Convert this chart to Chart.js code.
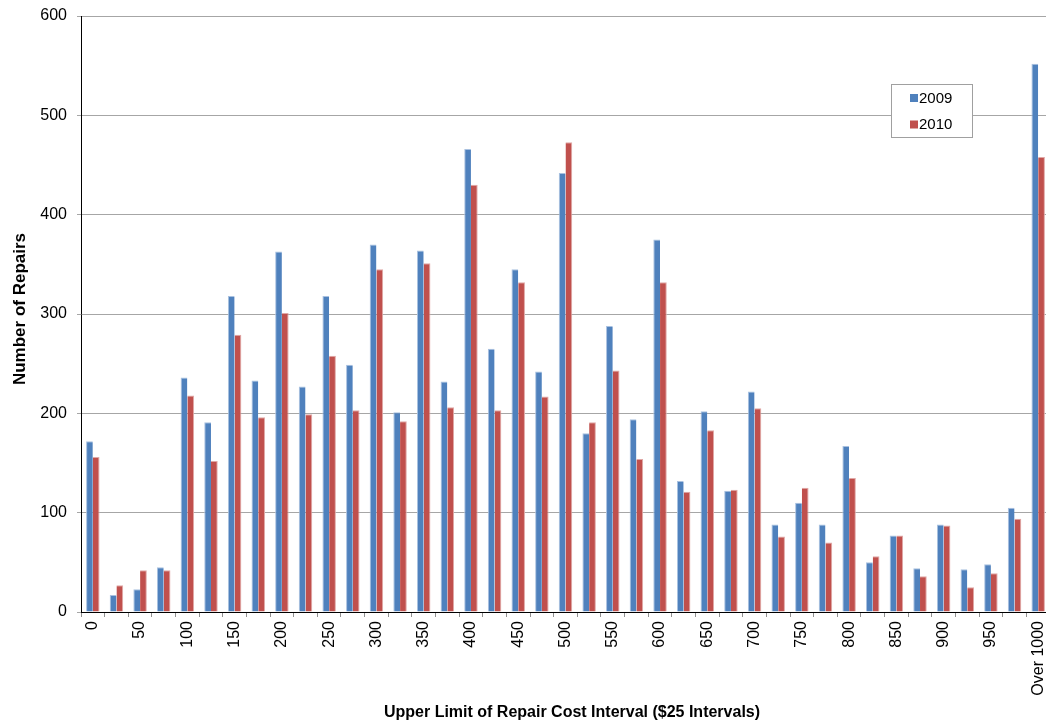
<!DOCTYPE html>
<html>
<head>
<meta charset="utf-8">
<title>Number of Repairs by Repair Cost Interval</title>
<script src="https://cdn.jsdelivr.net/npm/chart.js@4/dist/chart.umd.min.js"></script>
<style>
  html, body { margin: 0; padding: 0; background: #ffffff; overflow: hidden; }
  #wrap { width: 1046px; height: 721px; position: relative; overflow: hidden; }
  #chart { position: absolute; left: 0; top: 0; }
</style>
</head>
<body>
<div id="wrap"><canvas id="chart" width="1050" height="721"></canvas></div>
<script>
// Upper limit of each $25 repair-cost interval
const categories = [
  '0', '25', '50', '75', '100', '125', '150', '175', '200', '225',
  '250', '275', '300', '325', '350', '375', '400', '425', '450', '475',
  '500', '525', '550', '575', '600', '625', '650', '675', '700', '725',
  '750', '775', '800', '825', '850', '875', '900', '925', '950', '975',
  'Over 1000'
];

// Number of repairs per interval
const repairs2009 = [
  172, 17, 23, 45, 236, 191, 318, 233, 363, 227,
  318, 249, 370, 201, 364, 232, 466, 265, 345, 242,
  442, 180, 288, 194, 375, 132, 202, 122, 222, 88,
  110, 88, 167, 50, 77, 44, 88, 43, 48, 105,
  552
];
const repairs2010 = [
  156, 27, 42, 42, 218, 152, 279, 196, 301, 199,
  258, 203, 345, 192, 351, 206, 430, 203, 332, 217,
  473, 191, 243, 154, 332, 121, 183, 123, 205, 76,
  125, 70, 135, 56, 77, 36, 87, 25, 39, 94,
  458
];

const seriesNames = ['2009', '2010'];
const yTicks = [0, 100, 200, 300, 400, 500, 600];

const FONT = '"Liberation Sans", Arial, sans-serif';
const BLUE = '#4F81BD';
const RED = '#C0504D';

// Axis titles and the boxed legend are painted after the chart
const decorations = {
  id: 'decorations',
  afterDraw(chart) {
    const ctx = chart.ctx;
    ctx.save();
    ctx.fillStyle = '#000';
    ctx.font = 'bold 16px ' + FONT;
    ctx.textAlign = 'center';
    ctx.textBaseline = 'alphabetic';
    ctx.fillText('Upper Limit of Repair Cost Interval ($25 Intervals)', 572, 717);

    ctx.font = 'bold 17px ' + FONT;
    ctx.translate(25, 309);
    ctx.rotate(-Math.PI / 2);
    ctx.fillText('Number of Repairs', 0, 0);
    ctx.restore();

    // legend box
    ctx.save();
    ctx.fillStyle = '#fff';
    ctx.fillRect(891, 84, 81, 53);
    ctx.strokeStyle = '#A0A0A0';
    ctx.lineWidth = 1;
    ctx.strokeRect(891.5, 84.5, 81, 53);
    ctx.font = '15px ' + FONT;
    ctx.textAlign = 'left';
    ctx.textBaseline = 'middle';
    const rows = [98, 124.5];
    chart.data.datasets.forEach((ds, i) => {
      ctx.fillStyle = ds.backgroundColor;
      ctx.fillRect(910, rows[i] - 4, 8, 8);
      ctx.fillStyle = '#000';
      ctx.fillText(ds.label, 919, rows[i] + 0.5);
    });
    ctx.restore();
  }
};

new Chart(document.getElementById('chart'), {
  type: 'bar',
  data: {
    labels: categories,
    datasets: [
      { label: seriesNames[0], data: repairs2009, backgroundColor: BLUE,
        borderColor: '#A9C1E0', borderWidth: { left: 1, top: 1, right: 0, bottom: 0 }, borderSkipped: false },
      { label: seriesNames[1], data: repairs2010, backgroundColor: RED,
        borderColor: '#E0A8A6', borderWidth: { left: 0, top: 1, right: 1, bottom: 0 }, borderSkipped: false }
    ]
  },
  options: {
    responsive: false,
    animation: false,
    devicePixelRatio: 1,
    layout: { padding: { top: 16, left: 0, right: 0, bottom: 0 } },
    datasets: { bar: { categoryPercentage: 0.57, barPercentage: 1.0 } },
    plugins: {
      legend: { display: false },
      tooltip: { enabled: false }
    },
    scales: {
      x: {
        offset: true,
        afterFit(scale) {
          scale.height = 109;
          scale.paddingLeft = 0;
          scale.paddingRight = 0;
        },
        grid: {
          offset: true,
          drawOnChartArea: false,
          drawTicks: true,
          tickLength: 5,
          color: '#909090'
        },
        border: { display: true, color: '#000', width: 1 },
        ticks: {
          autoSkip: false,
          maxRotation: 90,
          minRotation: 90,
          padding: 4,
          color: '#000',
          font: { family: FONT, size: 16 },
          callback(value, index) {
            return index % 2 === 0 ? categories[index] : '';
          }
        }
      },
      y: {
        min: yTicks[0],
        max: yTicks[yTicks.length - 1],
        afterFit(scale) {
          scale.width = 81;
          scale.paddingTop = 0;
          scale.paddingBottom = 0;
        },
        afterBuildTicks(scale) { scale.ticks = yTicks.map(v => ({ value: v })); },
        grid: {
          color: '#A6A6A6',
          lineWidth: 1,
          drawTicks: true,
          tickLength: 4
        },
        border: { display: true, color: '#000', width: 1 },
        ticks: {
          padding: 10,
          color: '#000',
          font: { family: FONT, size: 16 }
        }
      }
    }
  },
  plugins: [decorations]
});
</script>
</body>
</html>
